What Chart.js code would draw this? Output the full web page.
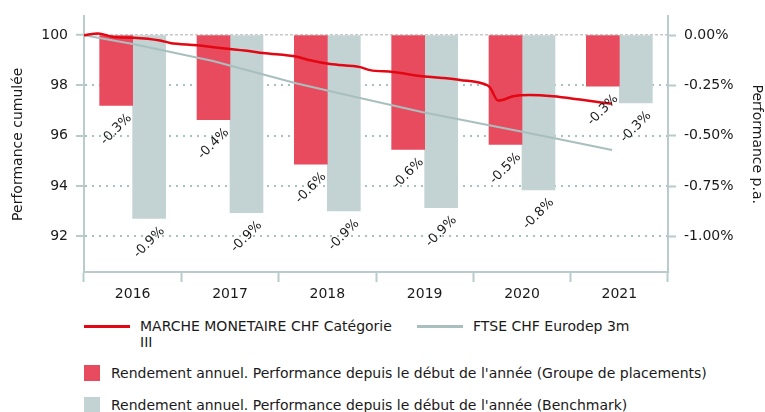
<!DOCTYPE html>
<html>
<head>
<meta charset="utf-8">
<script src="https://cdn.jsdelivr.net/npm/chart.js@4"></script>
<style>
  html,body{margin:0;padding:0;background:#fff}
  #wrap{position:relative;width:765px;height:412px;font-family:"DejaVu Sans",sans-serif;color:#1a1a1a}
  #box{position:absolute;left:0;top:0;width:765px;height:305px}
  #legend{position:absolute;left:84px;top:318px;font-size:14px;line-height:16px}
  .row{display:flex;align-items:flex-start;position:absolute;left:0;white-space:nowrap}
  .ln{display:inline-block;width:46px;height:3px;margin-top:7px;margin-right:10px;flex:none}
  .sq{display:inline-block;width:16px;height:16px;margin-right:11px;flex:none}
  .wrap1{white-space:normal;width:268px}
</style>
</head>
<body>
<div id="wrap">
  <div id="box"><canvas id="c"></canvas></div>
  <div id="legend"></div>
</div>
<script>
const years=['2016','2017','2018','2019','2020','2021'];
// annual returns in % (bars, right axis)
const fundYear=[-0.349,-0.42,-0.64,-0.567,-0.543,-0.253];
const benchYear=[-0.91,-0.882,-0.873,-0.856,-0.768,-0.337];
// cumulative performance (lines, left axis); t = years since start of 2016
const fundT=[0,0.144,0.298,0.503,0.781,0.884,1.161,1.397,1.675,1.839,2.188,2.322,2.527,2.836,2.938,3.175,3.452,3.658,3.863,4.141,4.171,4.254,4.295,4.408,4.582,4.819,5.096,5.425];
const fundCum=[100,100.07,99.93,99.9,99.79,99.69,99.6,99.49,99.38,99.29,99.14,99.0,98.85,98.73,98.61,98.54,98.38,98.31,98.22,98.01,97.92,97.4,97.42,97.57,97.62,97.57,97.44,97.27];
const benchT=[0,0.503,1.325,2.188,2.733,3.483,4.346,4.86,5.425];
const benchCum=[100,99.65,98.97,98.08,97.59,96.94,96.28,95.88,95.44];
const leftTicks=[92,94,96,98,100];
const rightTicks=[-1,-0.75,-0.5,-0.25,0];

const labels={
  fundLine:'MARCHE MONETAIRE CHF Catégorie III',
  benchLine:'FTSE CHF Eurodep 3m',
  fundBar:"Rendement annuel. Performance depuis le début de l'année (Groupe de placements)",
  benchBar:"Rendement annuel. Performance depuis le début de l'année (Benchmark)"
};
const RED='#E30613', GREYL='#A9BFBF', RBAR='#E94B5E', GBAR='#C3D2D2';
const AXIS='#B9CBCB', GRID='#A9C0C0', FONT='"DejaVu Sans", sans-serif';

const barLabels={
  id:'barLabels',
  afterDatasetsDraw(chart){
    const ctx=chart.ctx;
    chart.data.datasets.forEach((ds,i)=>{
      if(ds.type!=='bar') return;
      chart.getDatasetMeta(i).data.forEach((el,j)=>{
        ctx.save();
        ctx.translate(el.x, el.y+24);
        ctx.rotate(-Math.PI/4);
        ctx.font='13px '+FONT;
        ctx.fillStyle='#1a1a1a';
        ctx.textAlign='center'; ctx.textBaseline='middle';
        ctx.fillText(ds.data[j].toFixed(1)+'%',0,0);
        ctx.restore();
      });
    });
  }
};

const chart=new Chart(document.getElementById('c'),{
  type:'bar',
  data:{
    labels:years,
    datasets:[
      {type:'line',label:labels.fundLine,data:fundT.map((t,i)=>({x:t,y:fundCum[i]})),xAxisID:'xl',yAxisID:'y',
       borderColor:RED,borderWidth:2.5,pointRadius:0,cubicInterpolationMode:'monotone',order:0},
      {type:'line',label:labels.benchLine,data:benchT.map((t,i)=>({x:t,y:benchCum[i]})),xAxisID:'xl',yAxisID:'y',
       borderColor:GREYL,borderWidth:2,pointRadius:0,order:1},
      {type:'bar',label:labels.fundBar,data:fundYear,xAxisID:'x',yAxisID:'y1',backgroundColor:RBAR,
       barThickness:33,order:2},
      {type:'bar',label:labels.benchBar,data:benchYear,xAxisID:'x',yAxisID:'y1',backgroundColor:GBAR,
       barThickness:33,order:2}
    ]
  },
  options:{
    responsive:true,maintainAspectRatio:false,animation:false,
    layout:{padding:{top:13,left:0,right:0,bottom:0}},
    plugins:{legend:{display:false},tooltip:{enabled:false}},
    scales:{
      x:{type:'category',position:'bottom',offset:true,
        grid:{offset:true,drawOnChartArea:false,tickLength:10,tickColor:AXIS,tickWidth:2},
        border:{color:AXIS,width:2},
        ticks:{font:{family:FONT,size:14},color:'#1a1a1a',padding:4,maxRotation:0},
        afterFit(s){s.height=33}},
      xl:{type:'linear',display:false,offset:false,min:0,max:6},
      y:{position:'left',min:90.588,max:100.745,
        afterBuildTicks(s){s.ticks=leftTicks.map(v=>({value:v}))},
        ticks:{font:{family:FONT,size:14},color:'#1a1a1a',padding:8,callback:v=>String(v)},
        grid:{color:c=>c.tick&&c.tick.value===100?'#C8C8C8':GRID,lineWidth:c=>c.tick&&c.tick.value===100?1.5:2,
          tickLength:8,tickColor:AXIS,tickWidth:2,tickBorderDash:[]},
        border:{color:AXIS,width:2,dash:c=>c.tick&&c.tick.value===100?[3,2]:[2,5]},
        title:{display:true,text:'Performance cumulée',font:{family:FONT,size:14},color:'#1a1a1a',padding:{top:10,bottom:0}},
        afterFit(s){s.width=84}},
      y1:{position:'right',min:-1.176,max:0.0931,
        afterBuildTicks(s){s.ticks=rightTicks.map(v=>({value:v}))},
        ticks:{font:{family:FONT,size:14},color:'#1a1a1a',padding:8,callback:v=>v.toFixed(2)+'%'},
        grid:{drawOnChartArea:false,tickLength:8,tickColor:AXIS,tickWidth:2},
        border:{color:AXIS,width:2},
        title:{display:true,text:'Performance p.a.',font:{family:FONT,size:14},color:'#1a1a1a',padding:{top:0,bottom:0}},
        afterFit(s){s.width=97}}
    }
  },
  plugins:[barLabels]
});

// html legend from the datasets
const lg=document.getElementById('legend');
const ds=chart.data.datasets;
lg.innerHTML=
  '<div class="row" style="top:0">'+
    '<span class="ln" style="background:'+ds[0].borderColor+'"></span><span class="wrap1">'+ds[0].label+'</span>'+
    '<span class="ln" style="background:'+ds[1].borderColor+';margin-left:9px"></span><span>'+ds[1].label+'</span>'+
  '</div>'+
  '<div class="row" style="top:47px"><span class="sq" style="background:'+ds[2].backgroundColor+'"></span><span>'+ds[2].label+'</span></div>'+
  '<div class="row" style="top:79px"><span class="sq" style="background:'+ds[3].backgroundColor+'"></span><span>'+ds[3].label+'</span></div>';
</script>
</body>
</html>
